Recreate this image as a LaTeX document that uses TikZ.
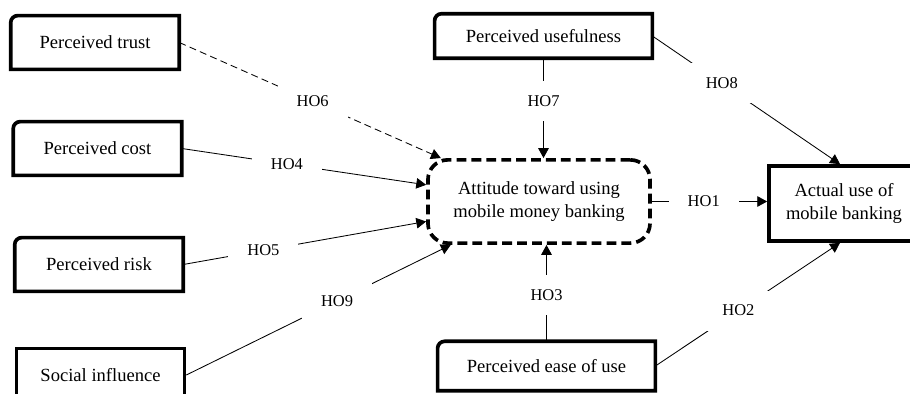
\documentclass[tikz,border=0pt]{standalone}
\usepackage{fontspec}
\setmainfont{Liberation Serif}
\usetikzlibrary{arrows.meta}
\newcommand{\boxfont}{\fontsize{13.2}{16}\selectfont}
\newcommand{\lblfont}{\fontsize{11.7}{14}\selectfont}
\tikzset{
	box/.style={font=\boxfont, align=center, inner sep=0pt, minimum width=4.2cm, minimum height=1.33cm},
	sqbox/.style={box, draw, line width=2.6pt},
	outline/.style={line width=2.6pt},
	lbl/.style={fill=white, font=\lblfont, inner sep=0pt, minimum width=1.75cm, minimum height=1cm},
	hyp/.style={line width=0.6pt, -{Triangle[length=7pt,width=7.5pt]}},
	thindash/.style={dash pattern=on 5pt off 3pt}
}
\begin{document}
\begin{tikzpicture}[x=0.025cm, y=0.025cm]
			\useasboundingbox (0,0) rectangle (910,394);
			\node (trust)[box] at (95,351.5) {Perceived trust};
			\node (cost)[box] at (97.5,245.5) {Perceived cost};
			\node (risk)[box] at (99,129.5) {Perceived risk};
			\node (social)[sqbox] at (100.5,19) {Social influence};
			\node (use)[box, minimum width=5.43cm, minimum height=1.1cm] at (543.5,358) {Perceived usefulness};
			\node (ease)[box, minimum width=5.43cm, minimum height=1.22cm] at (546.5,28) {Perceived ease of use};
			\node (att)[box, draw, line width=2.6pt, dash pattern=on 7pt off 3.6pt, rounded corners=14pt, minimum width=5.55cm, minimum height=2.08cm] at (539,192.5) {Attitude toward using\\mobile money banking};
			\node (act)[sqbox, minimum width=3.75cm, minimum height=1.875cm] at (844,190.5) {Actual use of\\mobile banking};

			\foreach \n in {trust,cost,risk,use,ease}
				\draw[outline] (\n.south west) -- ([yshift=-5pt]\n.north west) arc[start angle=180, end angle=90, radius=5pt] -- (\n.north east) -- (\n.south east) -- cycle;

			\draw [hyp, thindash](trust.east) -- node[lbl, pos=0.51] {HO6} (att);
			\draw [hyp](cost.east) -- node[lbl, pos=0.43] {HO4} (att);
			\draw [hyp](risk.east) -- node[lbl, pos=0.33] {HO5} (att);
			\draw [hyp](social.east) -- node[lbl, pos=0.57] {HO9} (att);
			\draw [hyp](use) -- node[lbl, pos=0.43] {HO7} (use |- att.north);
			\draw [hyp](ease) -- node[lbl, pos=0.48] {HO3} (ease |- att.south);
			\draw [hyp](att.east) -- node[lbl, pos=0.45] {HO1} (att.east -| act.west);
			\draw [hyp](use.east) -- node[lbl, pos=0.37] {HO8} ([xshift=-0.1cm]act.north);
			\draw [hyp](ease.east) -- node[lbl, pos=0.45] {HO2} ([xshift=-0.1cm]act.south);
		\end{tikzpicture}
\end{document}
